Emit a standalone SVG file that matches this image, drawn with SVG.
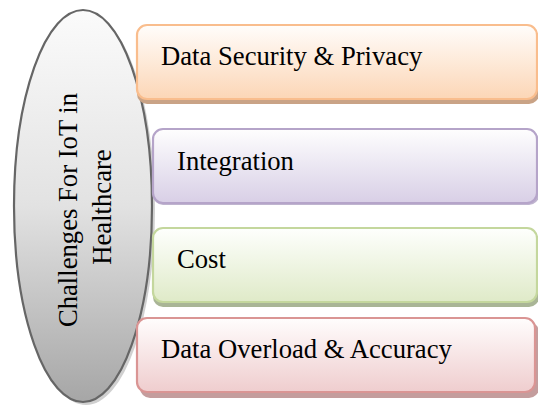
<svg xmlns="http://www.w3.org/2000/svg" width="538" height="407" viewBox="0 0 538 407">
<defs>
<linearGradient id="gEll" x1="0" y1="0" x2="0" y2="1"><stop offset="0" stop-color="#fbfbfb"/><stop offset="0.5" stop-color="#e2e2e2"/><stop offset="1" stop-color="#a6a6a6"/></linearGradient>
<linearGradient id="gOr" x1="0" y1="0" x2="0" y2="1"><stop offset="0" stop-color="#fffdfb"/><stop offset="1" stop-color="#fcd6b6"/></linearGradient>
<linearGradient id="gPu" x1="0" y1="0" x2="0" y2="1"><stop offset="0" stop-color="#fefefe"/><stop offset="1" stop-color="#d8cfe6"/></linearGradient>
<linearGradient id="gGr" x1="0" y1="0" x2="0" y2="1"><stop offset="0" stop-color="#fefffd"/><stop offset="1" stop-color="#dfeac8"/></linearGradient>
<linearGradient id="gRe" x1="0" y1="0" x2="0" y2="1"><stop offset="0" stop-color="#fffdfd"/><stop offset="1" stop-color="#efcdce"/></linearGradient>
</defs>
<style>
text{font-family:"Liberation Serif","Times New Roman",serif;font-size:26.67px;fill:#000}
.box{stroke-width:2.2}
</style>
<g id="ellipse-challenges">
<ellipse cx="86" cy="209" rx="69" ry="196" fill="#d0d0d0"/>
<ellipse cx="83" cy="206" rx="69" ry="196" fill="url(#gEll)" stroke="#666" stroke-width="2.2"/>
<text transform="translate(77,210) rotate(-90)" text-anchor="middle">Challenges For IoT in</text>
<text transform="translate(111,207) rotate(-90)" text-anchor="middle">Healthcare</text>
</g>
<g id="box-security">
<rect x="137" y="29" width="402" height="75" rx="10" fill="#c9a386"/>
<rect x="137" y="25" width="400" height="74" rx="10" class="box" fill="url(#gOr)" stroke="#f9bd8d"/>
<text x="161" y="65">Data Security &amp; Privacy</text>
</g>
<g id="box-integration">
<rect x="153" y="131" width="386" height="74" rx="10" fill="#bfb4cf"/>
<rect x="153" y="129" width="384" height="74" rx="10" class="box" fill="url(#gPu)" stroke="#b5a4c9"/>
<text x="177" y="170">Integration</text>
</g>
<g id="box-cost">
<rect x="153" y="232" width="386" height="75" rx="10" fill="#a9b596"/>
<rect x="153" y="228" width="384" height="74" rx="10" class="box" fill="url(#gGr)" stroke="#c4d79d"/>
<text x="177" y="268">Cost</text>
</g>
<g id="box-accuracy">
<rect x="140" y="322" width="399" height="76" rx="10" fill="#c49d9d"/>
<rect x="137" y="318" width="398" height="74" rx="10" class="box" fill="url(#gRe)" stroke="#da9594"/>
<text x="161" y="358">Data Overload &amp; Accuracy</text>
</g>
<g id="connectors"/>
</svg>
